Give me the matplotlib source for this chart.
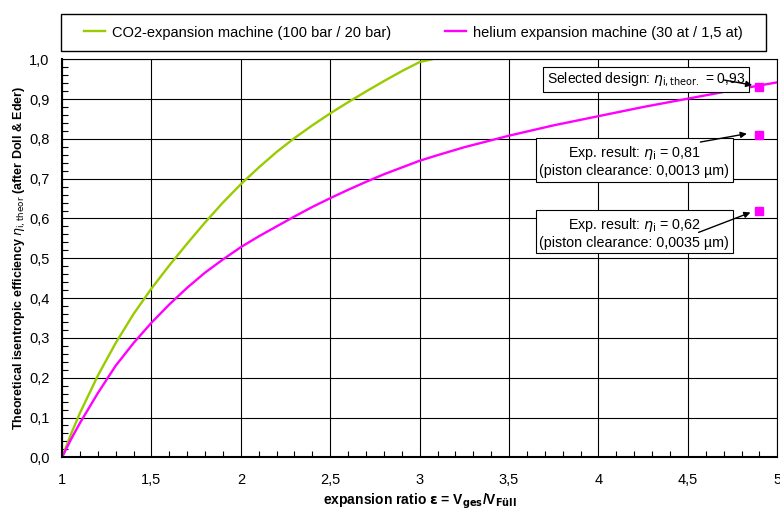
import matplotlib
matplotlib.use("Agg")
import matplotlib.pyplot as plt
from matplotlib.patches import Rectangle
from matplotlib.ticker import MultipleLocator, FuncFormatter

plt.rcParams['font.family'] = ['Liberation Sans', 'DejaVu Sans']
plt.rcParams['mathtext.fontset'] = 'dejavusans'

# CO2 expansion machine (100 bar / 20 bar)
co2_x = [1.0, 1.05, 1.1, 1.2, 1.3, 1.4, 1.5, 1.6, 1.7, 1.8, 1.9, 2.0, 2.1, 2.2, 2.3,
         2.4, 2.5, 2.6, 2.7, 2.8, 2.9, 3.0, 3.07]
co2_y = [0.0, 0.058, 0.111, 0.205, 0.287, 0.36, 0.424, 0.482, 0.537, 0.59, 0.64, 0.686, 0.728,
         0.767, 0.802, 0.834, 0.864, 0.892, 0.919, 0.945, 0.97, 0.993, 1.0]

# helium expansion machine (30 at / 1,5 at)
he_x = [1.0, 1.05, 1.1, 1.2, 1.3, 1.4, 1.5, 1.6, 1.7, 1.8, 1.9, 2.0, 2.1, 2.2, 2.3, 2.4,
        2.5, 2.6, 2.7, 2.8, 2.9, 3.0, 3.1, 3.25, 3.5, 3.75, 4.0, 4.25, 4.5, 4.75, 5.0]
he_y = [0.0, 0.045, 0.086, 0.161, 0.23, 0.287, 0.338, 0.384, 0.426, 0.464, 0.497, 0.528, 0.555,
        0.58, 0.605, 0.629, 0.651, 0.672, 0.692, 0.711, 0.728, 0.745, 0.759, 0.779, 0.808,
        0.834, 0.857, 0.88, 0.901, 0.922, 0.942]

# design point and experimental results
pts_x = [4.9, 4.9, 4.9]
pts_y = [0.93, 0.81, 0.62]

green = '#99cc00'
magenta = '#ff00ff'

fig = plt.figure(figsize=(7.8, 5.12), dpi=100)
ax = fig.add_axes([0.0795, 0.1068, 0.917, 0.7775])

ax.plot(co2_x, co2_y, color=green, lw=1.7, label='CO2-expansion machine (100 bar / 20 bar)')
ax.plot(he_x, he_y, color=magenta, lw=1.7, label='helium expansion machine (30 at / 1,5 at)')
ax.plot(pts_x, pts_y, 's', color=magenta, ms=5.5, ls='none', zorder=5)

ax.set_xlim(1, 5)
ax.set_ylim(0, 1.0)
ax.xaxis.set_major_locator(MultipleLocator(0.5))
ax.xaxis.set_minor_locator(MultipleLocator(0.1))
ax.yaxis.set_major_locator(MultipleLocator(0.1))
ax.yaxis.set_minor_locator(MultipleLocator(0.02))

ax.xaxis.set_major_formatter(FuncFormatter(lambda v, p: ('%g' % v).replace('.', ',')))
ax.yaxis.set_major_formatter(FuncFormatter(lambda v, p: ('%.1f' % v).replace('.', ',')))

ax.grid(True, which='major', color='black', lw=0.8)
ax.tick_params(which='major', length=0, labelsize=10.5)
ax.tick_params(axis='x', which='major', pad=11)
ax.tick_params(axis='y', which='major', pad=9)
ax.tick_params(which='minor', direction='in', length=4, width=0.8)
for s in ax.spines.values():
    s.set_linewidth(0.8)
ax.spines['left'].set_linewidth(1.5)
ax.spines['bottom'].set_linewidth(1.5)

ax.set_xlabel(r'expansion ratio $\mathbf{\varepsilon}$ = V$_{\mathbf{ges}}$/V$_{\mathbf{Füll}}$',
              fontsize=10, fontweight='bold', labelpad=4)
ax.set_ylabel(r'Theoretical isentropic efficiency $\eta_{\mathrm{i,theor}}$ (after Doll & Eder)',
              fontsize=9, fontweight='bold', labelpad=1)

# legend: box spans the same width as in the original, entries centred in it
fig.patches.append(Rectangle((61 / 780, 1 - 51 / 512), 705 / 780, 37 / 512,
                             transform=fig.transFigure, fc='white', ec='black', lw=1.0))
leg = fig.legend(loc='center', bbox_to_anchor=(61 / 780, 1 - 51 / 512, 705 / 780, 37 / 512),
                 ncol=2, frameon=False, fontsize=10.5,
                 handlelength=1.4, handletextpad=0.5, columnspacing=3.7, borderaxespad=0)

box = dict(boxstyle='square,pad=0.25', fc='white', ec='black', lw=0.8)
arrow = dict(arrowstyle='-|>', color='black', lw=1.0, mutation_scale=9, shrinkA=0, shrinkB=0)

ax.text(3.71, 0.95, r'Selected design: $\eta_{\mathrm{i,theor.}}$ = 0,93', fontsize=10,
        va='center', ha='left', bbox=box, zorder=4)
ax.annotate('', xy=(4.86, 0.935), xytext=(4.7, 0.948), arrowprops=arrow, zorder=6)

ax.text(4.2, 0.744, 'Exp. result: $\\eta_{\\mathrm{i}}$ = 0,81\n(piston clearance: 0,0013 µm)',
        fontsize=10.3, va='center', ha='center', multialignment='center', bbox=box, zorder=4,
        linespacing=1.2)
ax.annotate('', xy=(4.83, 0.813), xytext=(4.57, 0.792), arrowprops=arrow, zorder=6)

ax.text(4.2, 0.564, 'Exp. result: $\\eta_{\\mathrm{i}}$ = 0,62\n(piston clearance: 0,0035 µm)',
        fontsize=10.3, va='center', ha='center', multialignment='center', bbox=box, zorder=4,
        linespacing=1.2)
ax.annotate('', xy=(4.85, 0.615), xytext=(4.56, 0.565), arrowprops=arrow, zorder=6)

fig.savefig('out.png', dpi=100)
